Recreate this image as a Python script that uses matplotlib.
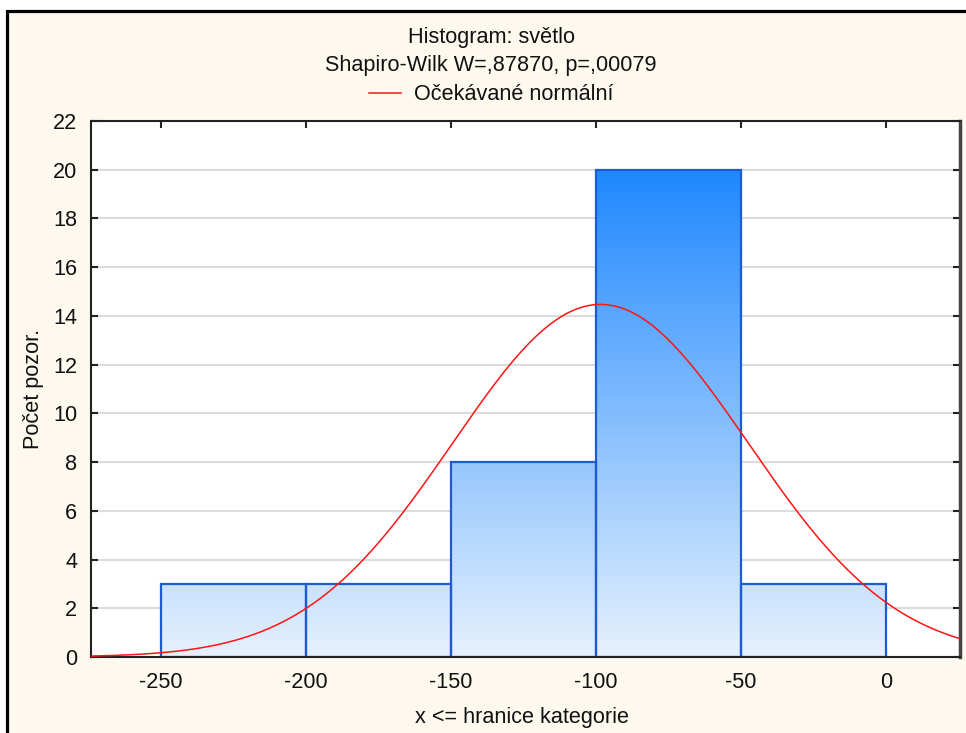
import numpy as np
import matplotlib.pyplot as plt
from matplotlib.patches import Rectangle
from matplotlib.colors import LinearSegmentedColormap
from matplotlib.lines import Line2D

plt.rcParams['font.family'] = ['Liberation Sans', 'DejaVu Sans']
plt.rcParams['axes.unicode_minus'] = False

# histogram data
bin_edges = [-250, -200, -150, -100, -50, 0]
counts = [3, 3, 8, 20, 3]

# fitted normal (expected curve)
n_obs = 37
fit_mean = -98.4
fit_sd = 51.0

title1 = "Histogram: světlo"
title2 = "Shapiro-Wilk W=,87870, p=,00079"
legend_label = "Očekávané normální"
xlabel = "x <= hranice kategorie"
ylabel = "Počet pozor."
xticks = [-250, -200, -150, -100, -50, 0]
yticks = list(range(0, 23, 2))

FS = 15.6
W, H = 966, 733
fig = plt.figure(figsize=(W / 100, H / 100), dpi=100)
fig.patch.set_facecolor('white')

# cream panel with black border on top and left
panel = Rectangle((7 / W, -0.05), 1.2, 1 - 11 / H + 0.05,
                  transform=fig.transFigure, facecolor='#FEF9EF',
                  edgecolor='black', lw=2.3, zorder=-10)
fig.add_artist(panel)

x0, x1 = -274.1, 25.6
ax = fig.add_axes([91 / W, 1 - 657 / H, (960 - 91) / W, (657 - 121) / H])
ax.set_facecolor('white')

ax.set_axisbelow(True)
ax.yaxis.grid(True, color='#DCDCDC', lw=1.5)

# bars with vertical gradient (shared over the data range)
width = bin_edges[1] - bin_edges[0]
bars = ax.bar(bin_edges[:-1], counts, width=width, align='edge',
              facecolor='none', edgecolor='#1E5BD0', lw=1.6, zorder=2.2)
cmap = LinearSegmentedColormap.from_list('grad', ['#E6F1FD', '#1E88FF'])
grad = np.linspace(0, 1, 256).reshape(-1, 1)
for b in bars:
    im = ax.imshow(grad, cmap=cmap, origin='lower', aspect='auto',
                   extent=[x0, x1, 0, 20], zorder=2, interpolation='bilinear')
    im.set_clip_path(b)
ax.set_xlim(x0, x1)
ax.set_ylim(0, 22)

# expected normal curve
xs = np.linspace(x0, x1, 600)
ys = n_obs * width / (fit_sd * np.sqrt(2 * np.pi)) * np.exp(-(xs - fit_mean) ** 2 / (2 * fit_sd ** 2))
ax.plot(xs, ys, color='#FF1414', lw=1.1, zorder=4)

ax.set_xticks(xticks)
ax.set_yticks(yticks)
ax.tick_params(direction='in', length=5, width=1.5, labelsize=FS,
               top=True, right=True, labelcolor='#111111', color='#222222')
ax.tick_params(axis='x', pad=10.5)
ax.tick_params(axis='y', pad=10)
for s in ['left', 'top', 'bottom']:
    ax.spines[s].set_color('#222222')
    ax.spines[s].set_linewidth(1.5)
ax.spines['right'].set_color('#444444')
ax.spines['right'].set_linewidth(2.5)

cx = 491 / W
fig.text(cx, 1 - 38 / H, title1, ha='center', va='center', fontsize=FS, color='#111111')
fig.text(cx, 1 - 66 / H, title2, ha='center', va='center', fontsize=FS, color='#111111')
handle = Line2D([], [], color='#FF1414', lw=1.1)
fig.legend([handle], [legend_label], loc='center', bbox_to_anchor=(cx, 1 - 95 / H),
           frameon=False, fontsize=FS, handlelength=1.5, handletextpad=0.6,
           labelcolor='#111111')

fig.text(522 / W, 1 - 717 / H, xlabel, ha='center', va='center', fontsize=FS, color='#111111')
fig.text(33 / W, 1 - 389 / H, ylabel, ha='center', va='center', rotation=90,
         fontsize=FS, color='#111111')

fig.savefig('out.png', dpi=100)
